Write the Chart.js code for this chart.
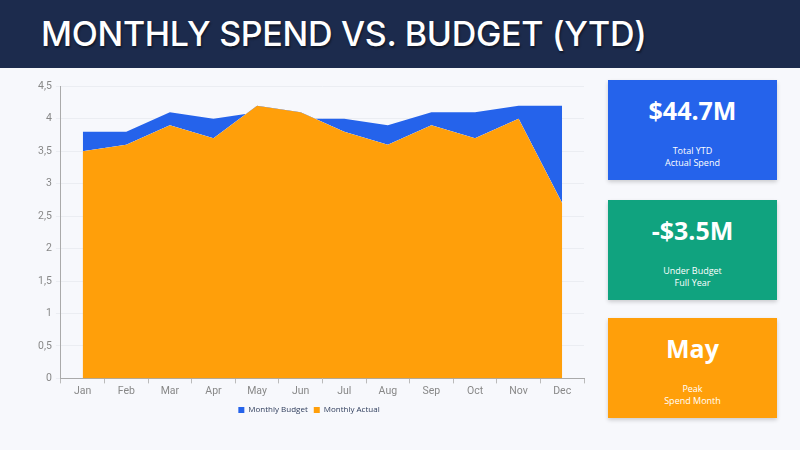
<!DOCTYPE html>
<html>
<head>
<meta charset="utf-8">
<script src="https://cdn.jsdelivr.net/npm/chart.js@4.4.1/dist/chart.umd.min.js"></script>
<style>
  html,body{margin:0;padding:0;width:800px;height:450px;overflow:hidden;background:#f7f8fc;}
  #header{position:absolute;left:0;top:0;width:800px;height:68px;background:#1c2b4d;}
  #title{position:absolute;left:41px;top:13px;color:#fff;font-family:Inter,Roboto,sans-serif;font-weight:500;font-size:34px;letter-spacing:-0.3px;text-shadow:1px 2px 2px rgba(0,0,0,0.45);white-space:nowrap;}
  #chartBox{position:absolute;left:8px;top:76px;width:586px;height:348px;}
  .card{position:absolute;left:608px;width:169px;height:100px;box-shadow:0 2px 4px rgba(0,0,0,0.18);color:#fff;text-align:center;font-family:"Open Sans","Noto Sans",sans-serif;}
  .card .big{position:absolute;left:0;right:0;top:13px;font-size:25px;font-weight:700;}
  .card .sub{position:absolute;left:0;right:0;top:65px;font-size:9px;line-height:12px;}
</style>
</head>
<body>
<div id="header"><div id="title">MONTHLY SPEND VS. BUDGET (YTD)</div></div>
<div id="chartBox"><canvas id="c"></canvas></div>
<div class="card" style="top:80px;background:#2563eb;"><div class="big">$44.7M</div><div class="sub">Total YTD<br>Actual Spend</div></div>
<div class="card" style="top:200px;background:#10a37f;"><div class="big">-$3.5M</div><div class="sub">Under Budget<br>Full Year</div></div>
<div class="card" style="top:318px;background:#ff9f0a;"><div class="big">May</div><div class="sub">Peak<br>Spend Month</div></div>
<script>
const months = ["Jan","Feb","Mar","Apr","May","Jun","Jul","Aug","Sep","Oct","Nov","Dec"];
const budget = [3.8,3.8,4.1,4.0,4.1,4.0,4.0,3.9,4.1,4.1,4.2,4.2];
const actual = [3.5,3.6,3.9,3.7,4.2,4.1,3.8,3.6,3.9,3.7,4.0,2.7];

new Chart(document.getElementById('c'), {
  type: 'line',
  data: {
    labels: months,
    datasets: [
      {label:'Monthly Budget', data: budget, backgroundColor:'#2563eb', borderColor:'#2563eb', borderWidth:0, pointRadius:0, tension:0,
       fill:{target:'+1', above:'#2563eb', below:'rgba(0,0,0,0)'}},
      {label:'Monthly Actual', data: actual, backgroundColor:'#ff9f0a', borderColor:'#ff9f0a', borderWidth:0, pointRadius:0, tension:0, fill:'origin'}
    ]
  },
  options: {
    responsive:true, maintainAspectRatio:false, animation:false, locale:'de-DE',
    layout:{padding:{left:26,right:10,top:4,bottom:0}},
    plugins:{
      legend:{position:'bottom', labels:{boxWidth:6, boxHeight:6, padding:6, color:'#2f3d5c', font:{family:'"Open Sans"', size:8}}},
      tooltip:{enabled:false}
    },
    scales:{
      x:{offset:true, grid:{offset:true, display:true, drawOnChartArea:false, drawTicks:true, tickLength:5, color:'#bbb'}, border:{color:'#aaa'},
         ticks:{color:'#888', font:{family:'Roboto', size:10.5}, padding:2}},
      y:{min:0, max:4.5, ticks:{stepSize:0.5, color:'#888', font:{family:'Roboto', size:10.5}, padding:4,
           callback:(v)=>v.toLocaleString('de-DE')},
         grid:{color:'#ebedf2', tickLength:5}, border:{color:'#aaa'}}
    }
  }
});
</script>
</body>
</html>
